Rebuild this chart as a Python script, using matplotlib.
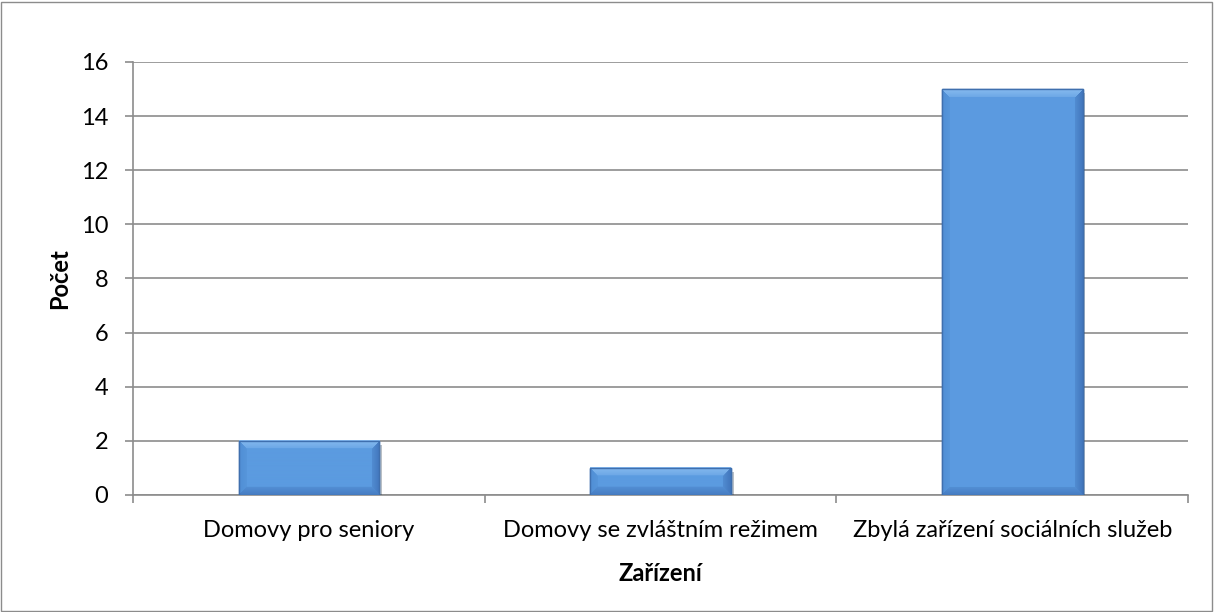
import matplotlib as mpl
mpl.use('Agg')
import matplotlib.pyplot as plt
import matplotlib.patheffects as pe
from matplotlib.patches import Rectangle
import numpy as np

categories = ['Domovy pro seniory', 'Domovy se zvláštním režimem', 'Zbylá zařízení sociálních služeb']
values = [2, 1, 15]
yticks = [0, 2, 4, 6, 8, 10, 12, 14, 16]

plt.rcParams['font.family'] = ['Lato', 'DejaVu Sans']

fig = plt.figure(figsize=(12.14, 6.12), dpi=100)
ax = fig.add_axes([0.1096, 0.1912, 0.8691, 0.7075])

xvec = np.arange(len(categories))
bars = ax.bar(xvec, values, width=0.4, color='#5B9BE0', edgecolor='#3F6FAE', linewidth=1.0, zorder=3)
for b in bars:
    b.set_path_effects([pe.SimplePatchShadow(offset=(2, -3), alpha=0.3), pe.Normal()])

ax.set_xlim(-0.5, len(categories) - 0.5)
ax.set_ylim(0, 16)

# bevel look like the office chart
base = np.array([91, 155, 224]) / 255
top_c = np.array([135, 187, 240]) / 255
left_c = np.array([80, 142, 212]) / 255
right_c = np.array([66, 118, 188]) / 255
bot_c = np.array([70, 124, 194]) / 255
bev = 8
for b in bars:
    x0, y0, w, h = b.get_x(), b.get_y(), b.get_width(), b.get_height()
    p0 = ax.transData.transform((x0, y0))
    p1 = ax.transData.transform((x0 + w, y0 + h))
    wp = int(round(p1[0] - p0[0]))
    hp = int(round(p1[1] - p0[1]))
    yy, xx = np.mgrid[0:hp, 0:wp] + 0.5
    d = np.stack([yy, hp - yy, xx, wp - xx])  # top, bottom, left, right
    near = d.argmin(axis=0)
    dmin = d.min(axis=0)
    img = np.tile(base, (hp, wp, 1))
    for k, c in enumerate([top_c, bot_c, left_c, right_c]):
        m = (near == k) & (dmin < bev)
        t = (1 - dmin[m] / bev)[:, None] * 0.6 + 0.4
        img[m] = base * (1 - t) + c * t
    ax.imshow(img, extent=(x0, x0 + w, y0, y0 + h), aspect='auto', zorder=3.5,
              interpolation='bilinear')
    ax.add_patch(Rectangle((x0, y0), w, h, fill=False, edgecolor='#3F6FAE', linewidth=1.0, zorder=4))

ax.set_xlim(-0.5, len(categories) - 0.5)
ax.set_ylim(0, 16)
ax.set_yticks(yticks)
ax.yaxis.grid(True, color='#8C8C8C', linewidth=1.2, zorder=0)
ax.set_axisbelow(True)

ax.set_xticks(xvec)
ax.set_xticklabels(categories, fontsize=17)
ax.tick_params(axis='x', length=0, pad=18)
ax.set_xticks(np.arange(-0.5, len(categories)), minor=True)
ax.tick_params(axis='x', which='minor', length=6, color='#8C8C8C', width=1.2)
ax.tick_params(axis='y', labelsize=17, length=6, color='#8C8C8C', width=1.2, pad=12)

for s in ['top', 'right']:
    ax.spines[s].set_visible(False)
for s in ['left', 'bottom']:
    ax.spines[s].set_color('#8C8C8C')
    ax.spines[s].set_linewidth(1.2)

ax.set_ylabel('Počet', fontsize=17, fontweight='bold', labelpad=7)
ax.set_xlabel('Zařízení', fontsize=17, fontweight='bold', labelpad=15)

fig.patches.append(Rectangle((0.001, 0.002), 0.997, 0.995, transform=fig.transFigure,
                             fill=False, edgecolor='#8C8C8C', linewidth=1))

plt.savefig('out.png', dpi=100)
plt.close()
